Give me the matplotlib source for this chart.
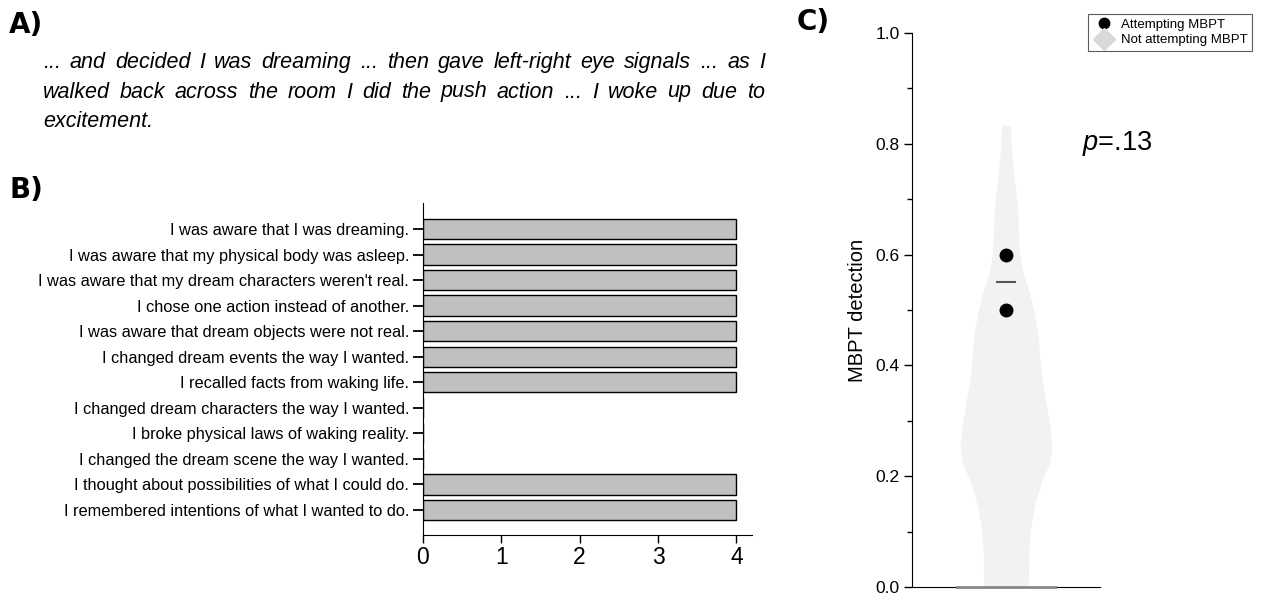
import numpy as np
import matplotlib
matplotlib.use("Agg")
import matplotlib.pyplot as plt
from matplotlib.lines import Line2D
from matplotlib.ticker import MultipleLocator

plt.rcParams["font.family"] = ["Liberation Sans", "DejaVu Sans"]
plt.rcParams["mathtext.fontset"] = "custom"
plt.rcParams["mathtext.it"] = "Liberation Sans:italic"
plt.rcParams["mathtext.rm"] = "Liberation Sans"

# --- data ---
quote_lines = [
    "... and decided I was dreaming ... then gave left-right eye signals ... as I",
    "walked back across the room I did the push action ... I woke up due to",
    "excitement.",
]

items = [
    "I was aware that I was dreaming.",
    "I was aware that my physical body was asleep.",
    "I was aware that my dream characters weren't real.",
    "I chose one action instead of another.",
    "I was aware that dream objects were not real.",
    "I changed dream events the way I wanted.",
    "I recalled facts from waking life.",
    "I changed dream characters the way I wanted.",
    "I broke physical laws of waking reality.",
    "I changed the dream scene the way I wanted.",
    "I thought about possibilities of what I could do.",
    "I remembered intentions of what I wanted to do.",
]
scores = [4, 4, 4, 4, 4, 4, 4, 0, 0, 0, 4, 4]

# violin outline of the "not attempting" group (detection level, half width)
violin_y = [0.0, 0.055, 0.103, 0.145, 0.187, 0.223, 0.253, 0.289, 0.332, 0.380,
            0.410, 0.452, 0.494, 0.531, 0.567, 0.603, 0.650, 0.693, 0.735, 0.783, 0.834]
violin_hw = [0.237, 0.241, 0.259, 0.301, 0.372, 0.461, 0.489, 0.468, 0.426, 0.380,
             0.362, 0.344, 0.301, 0.248, 0.181, 0.141, 0.133, 0.120, 0.088, 0.062, 0.046]
attempting = [0.6, 0.5]
attempting_mean = 0.55
p_text = "$p$=.13"

W, H = 1261, 596
fig = plt.figure(figsize=(W / 100, H / 100), dpi=100)

# panel letters
for lab, x, y in [("A)", 9, 33), ("B)", 9, 198), ("C)", 797, 30)]:
    fig.text(x / W, 1 - y / H, lab, fontsize=20, fontweight="bold",
             family="DejaVu Sans", va="baseline")

# A) justified quote
renderer = fig.canvas.get_renderer()
x0, x1 = 43, 765
for i, line in enumerate(quote_lines):
    y = 1 - (68 + i * 29.5) / H
    words = line.split(" ")
    texts = [fig.text(0, y, w, fontsize=15.5, style="italic", va="baseline")
             for w in words]
    widths = [t.get_window_extent(renderer).width for t in texts]
    if i < len(quote_lines) - 1 and len(words) > 1:
        gap = (x1 - x0 - sum(widths)) / (len(words) - 1)
    else:
        gap = 5
    x = x0
    for t, w in zip(texts, widths):
        t.set_x(x / W)
        x += w + gap

# B) bar chart
axb = fig.add_axes([423 / W, (H - 535) / H, 329 / W, 332 / H])
pos = np.arange(len(items))
axb.barh(pos, scores, height=0.8, color="#c0c0c0", edgecolor="black", linewidth=1)
axb.set_yticks(pos)
axb.set_yticklabels(items, fontsize=11.8)
axb.set_ylim(len(items) - 0.02, -1.02)
axb.set_xlim(0, 4.2)
axb.set_xticks([0, 1, 2, 3, 4])
axb.tick_params(axis="x", labelsize=16.5, length=6, width=1, pad=2)
axb.tick_params(axis="y", length=7, width=1.3, pad=3)
for s in ["top", "right"]:
    axb.spines[s].set_visible(False)

# C) violin
axc = fig.add_axes([912 / W, (H - 587) / H, 188 / W, 554 / H])
axc.fill_betweenx(violin_y, [-h for h in violin_hw], violin_hw,
                  color="#f2f2f2", linewidth=0, clip_on=False)
axc.plot([-0.52, 0.52], [0, 0], color="#888888", lw=2, clip_on=False, zorder=3)
axc.plot([0] * len(attempting), attempting, "o", color="black", markersize=9, zorder=4)
axc.plot([-0.095, 0.095], [attempting_mean] * 2, color="#555555", lw=1.5, zorder=4)
axc.set_xlim(-1, 1)
axc.set_ylim(0, 1)
axc.set_xticks([])
axc.yaxis.set_major_locator(MultipleLocator(0.2))
axc.yaxis.set_minor_locator(MultipleLocator(0.1))
axc.tick_params(axis="y", which="major", labelsize=12.5, length=6, width=1, pad=3)
axc.tick_params(axis="y", which="minor", length=3.5, width=1)
axc.set_ylabel("MBPT detection", fontsize=14.5, labelpad=6)
for s in ["top", "right"]:
    axc.spines[s].set_visible(False)
fig.text(1082 / W, 1 - 150 / H, p_text, fontsize=19.5, va="baseline")

handles = [
    Line2D([], [], marker="o", color="black", linestyle="none", markersize=7.5),
    Line2D([], [], marker="D", color="#d9d9d9", linestyle="none", markersize=11),
]
leg = fig.legend(handles, ["Attempting MBPT", "Not attempting MBPT"],
                 loc="upper right", bbox_to_anchor=(1252 / W, 1 - 14 / H),
                 fontsize=9.5, fancybox=False, edgecolor="#333333",
                 handlelength=1.6, handletextpad=0.5, borderpad=0.35,
                 labelspacing=0.25, borderaxespad=0)
leg.get_frame().set_linewidth(0.8)

fig.savefig("out.png", dpi=100)
